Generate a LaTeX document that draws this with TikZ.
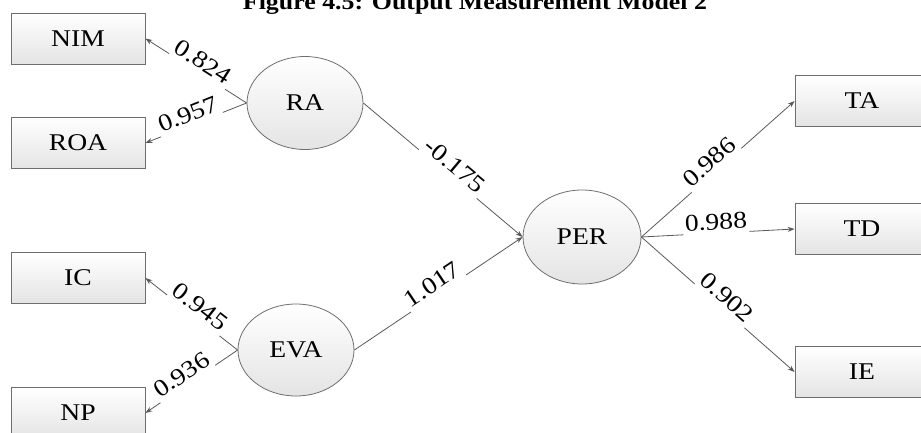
\documentclass[tikz,border=0pt]{standalone}
\usepackage{fontspec}
\setmainfont{Liberation Serif}[FakeStretch=1.15]
\usetikzlibrary{arrows.meta,shapes.geometric}
\definecolor{lin}{HTML}{595959}
\definecolor{bord}{HTML}{6E6E6E}
\definecolor{shadebot}{HTML}{E4E4E4}
\begin{document}
\begin{tikzpicture}[x=1pt,y=1pt,
  txt/.style={font=\fontsize{24}{28}\selectfont},
  box/.style={txt, draw=bord, line width=0.8pt, top color=white, bottom color=shadebot,
    minimum width=134pt, minimum height=51pt, inner sep=0pt},
  lat/.style={txt, ellipse, draw=bord, line width=0.8pt, top color=white, bottom color=shadebot,
    minimum width=116pt, minimum height=93pt, inner sep=0pt},
  arr/.style={draw=lin, line width=0.8pt, -{Stealth[length=7pt,width=5pt]}},
  lbl/.style={txt, sloped, fill=white, inner xsep=2pt, inner ysep=1pt, text depth=4pt, above=-2pt}
]
\useasboundingbox (0,0) rectangle (921,-432);
\clip (0,0) rectangle (921,-432);

\node[anchor=base, font=\bfseries\fontsize{22.5}{26}\selectfont] (title) at (475,-9) {Figure 4.5: Output Measurement Model 2};

\node[box] (NIM) at (78,-38.5) {NIM};
\node[box] (ROA) at (78,-143) {ROA};
\node[box] (IC)  at (78,-278) {IC};
\node[box] (NP)  at (78,-413) {NP};
\node[box] (TA)  at (862,-101) {TA};
\node[box] (TD)  at (862,-229) {TD};
\node[box] (IE)  at (862,-372) {IE};

\node[lat] (RA)  at (305,-103) {RA};
\node[lat, minimum height=92pt] (EVA) at (296,-350) {EVA};
\node[lat, minimum width=118pt, minimum height=94pt] (PER) at (582,-237) {PER};

\draw[arr] (RA.west) -- node[lbl,pos=0.49]{0.824} (NIM.east);
\draw[arr] (RA.west) -- node[lbl,pos=0.54]{0.957} (ROA.east);
\draw[arr] (EVA.west) -- node[lbl,pos=0.48]{0.945} (IC.east);
\draw[arr] (EVA.west) -- node[lbl,pos=0.54]{0.936} (NP.east);
\draw[arr] (RA.east) -- node[lbl,pos=0.53]{-0.175} (PER.west);
\draw[arr] (EVA.east) -- node[lbl,pos=0.50]{1.017} (PER.west);
\draw[arr] (PER.east) -- node[lbl,pos=0.49]{0.986} (TA.west);
\draw[arr] (PER.east) -- node[lbl,pos=0.49]{0.988} (TD.west);
\draw[arr] (PER.east) -- node[lbl,pos=0.51]{0.902} (IE.west);
\end{tikzpicture}
\end{document}
